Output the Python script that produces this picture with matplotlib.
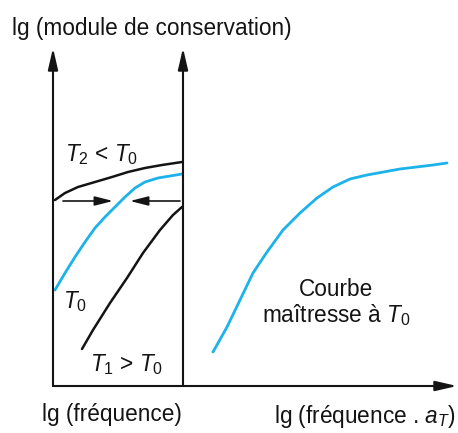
import matplotlib.pyplot as plt

plt.rcParams['font.family'] = ['Liberation Sans', 'DejaVu Sans']
plt.rcParams['mathtext.fontset'] = 'custom'
plt.rcParams['mathtext.rm'] = 'Liberation Sans'
plt.rcParams['mathtext.it'] = 'Liberation Sans:italic'

BLUE = '#1cb2ea'
INK = '#141414'

# isothermal curves, lg(modulus) vs lg(frequency), measurement window 0..13
t2_x = [0.2, 1.2, 2.5, 4.2, 5.9, 7.5, 9.2, 10.9, 12.9]
t2_y = [18.5, 19.2, 19.8, 20.3, 20.8, 21.3, 21.7, 22.0, 22.3]

t0_x = [0.2, 1.2, 2.2, 3.2, 4.2, 5.2, 6.2, 7.2, 8.2, 9.2, 10.5, 12.9]
t0_y = [9.5, 11.2, 12.8, 14.3, 15.7, 16.8, 17.8, 18.8, 19.7, 20.3, 20.7, 21.1]

t1_x = [2.9, 4.0, 5.7, 7.4, 9.0, 10.7, 12.0, 12.9]
t1_y = [3.6, 5.5, 8.2, 10.7, 13.2, 15.5, 17.0, 17.8]

# master curve at T0 vs lg(frequency . aT)
master_x = [16.0, 17.4, 18.7, 20.0, 21.4, 23.0, 24.7, 26.4, 28.0, 29.7, 31.4, 34.7,
            38.0, 39.4]
master_y = [3.3, 5.8, 8.5, 11.2, 13.3, 15.5, 17.2, 18.7, 19.8, 20.6, 21.0, 21.6,
            22.0, 22.2]

window = 13.0
shift_level = 18.4

fig = plt.figure(figsize=(4.58, 4.33), dpi=100)
ax = fig.add_axes([0, 0, 1, 1])
ax.set_xlim(-5.3, 40.5)
ax.set_ylim(-4.8, 38.5)
ax.axis('off')

axis_kw = dict(arrowstyle='-|>,head_length=1.3,head_width=0.3', color=INK, lw=1.5,
               shrinkA=0, shrinkB=0)
ax.annotate('', xy=(0, 33.7), xytext=(0, -0.1), arrowprops=axis_kw)
ax.annotate('', xy=(window, 33.7), xytext=(window, -0.1), arrowprops=axis_kw)
ax.annotate('', xy=(40.4, -0.1), xytext=(0, -0.1), arrowprops=axis_kw)

curve_kw = dict(solid_capstyle='round', solid_joinstyle='round')
ax.plot(t2_x, t2_y, color=INK, lw=1.8, **curve_kw)
ax.plot(t0_x, t0_y, color=BLUE, lw=2.0, **curve_kw)
ax.plot(t1_x, t1_y, color=INK, lw=1.8, **curve_kw)
ax.plot(master_x, master_y, color=BLUE, lw=2.0, **curve_kw)

shift_kw = dict(arrowstyle='-|>,head_length=1.1,head_width=0.28', color=INK, lw=1.2,
                shrinkA=0, shrinkB=0)
ax.annotate('', xy=(6.0, shift_level), xytext=(1.0, shift_level), arrowprops=shift_kw)
ax.annotate('', xy=(7.7, shift_level), xytext=(12.7, shift_level), arrowprops=shift_kw)

fs = 16.3
ax.text(-4.1, 35.6, 'lg (module de conservation)', fontsize=fs, color=INK,
        ha='left', va='center')
ax.text(1.2, 23.0, r'$T_\mathrm{2}$ < $T_\mathrm{0}$', fontsize=fs, color=INK,
        ha='left', va='center')
ax.text(1.0, 8.3, r'$T_\mathrm{0}$', fontsize=fs, color=INK, ha='left', va='center')
ax.text(3.7, 2.0, r'$T_\mathrm{1}$ > $T_\mathrm{0}$', fontsize=fs, color=INK,
        ha='left', va='center')
ax.text(28.3, 8.2, 'Courbe\nmaîtresse à $T_\\mathrm{0}$', fontsize=fs, color=INK,
        ha='center', va='center', linespacing=1.05)
ax.text(5.9, -3.0, 'lg (fréquence)', fontsize=fs, color=INK, ha='center', va='center')
ax.text(31.2, -3.2, r'lg (fréquence . $a_T$)', fontsize=fs, color=INK,
        ha='center', va='center')

fig.savefig('out.png', dpi=100)
